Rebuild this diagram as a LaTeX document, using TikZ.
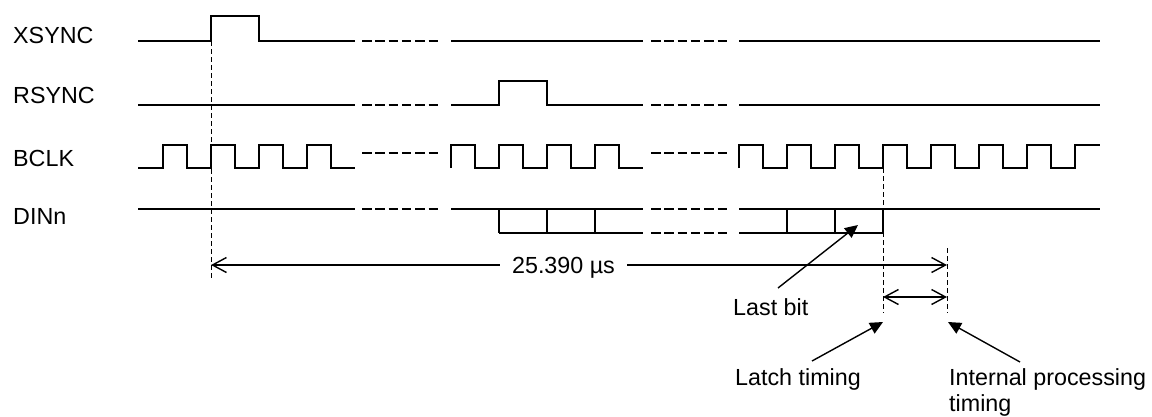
\documentclass[tikz,border=0pt]{standalone}
\usepackage{fontspec}
\setmainfont{Liberation Sans}
\usetikzlibrary{arrows.meta}
\begin{document}
\begin{tikzpicture}[x=1pt,y=-1pt,
  sig/.style={line width=1.7pt, line join=miter},
  gapdash/.style={line width=1.7pt, dash pattern=on 9.5pt off 3.8pt},
  guide/.style={line width=1pt, dash pattern=on 5pt off 3pt},
  dim/.style={line width=1.4pt, {Straight Barb[length=14pt,width=15pt]}-{Straight Barb[length=14pt,width=15pt]}},
  pointer/.style={line width=1.4pt, -{Triangle[length=13pt,width=12pt]}},
  lbl/.style={font=\fontsize{23.3}{26}\selectfont, inner sep=0pt, anchor=base west}]
\useasboundingbox (0,0) rectangle (1152,416);
% labels
\node[lbl] (lx) at (13,43) {XSYNC};
\node[lbl] (lr) at (13,103) {RSYNC};
\node[lbl] (lb) at (13,166) {BCLK};
\node[lbl] (ld) at (13,224) {DINn};
% guides
\draw[guide] (211,41) -- (211,278);
\draw[guide] (883,168) -- (883,313);
\draw[guide] (947,248) -- (947,313);
% XSYNC
\draw[sig] (138,41)--(211,41)--(211,16)--(259,16)--(259,41)--(355,41);
\draw[sig] (451,41)--(643,41);
\draw[sig] (739,41)--(1100,41);
% RSYNC
\draw[sig] (138,105)--(355,105);
\draw[sig] (451,105)--(499,105)--(499,81)--(547,81)--(547,105)--(643,105);
\draw[sig] (739,105)--(1100,105);
% BCLK
\draw[sig] (138,168)--(163,168)--(163,145)--(187,145)--(187,168)--(211,168)--(211,145)--(235,145)--(235,168)--(259,168)--(259,145)--(283,145)--(283,168)--(307,168)--(307,145)--(331,145)--(331,168)--(355,168);
\draw[sig] (451,168)--(451,145)--(475,145)--(475,168)--(499,168)--(499,145)--(523,145)--(523,168)--(547,168)--(547,145)--(571,145)--(571,168)--(595,168)--(595,145)--(619,145)--(619,168)--(643,168);
\draw[sig] (739,168)--(739,145)--(763,145)--(763,168)--(787,168)--(787,145)--(811,145)--(811,168)--(835,168)--(835,145)--(859,145)--(859,168)--(883,168)--(883,145)--(907,145)--(907,168)--(931,168)--(931,145)--(955,145)--(955,168)--(979,168)--(979,145)--(1003,145)--(1003,168)--(1027,168)--(1027,145)--(1051,145)--(1051,168)--(1075,168)--(1075,145)--(1100,145);
% DINn
\draw[sig] (138,209)--(355,209);
\draw[sig] (451,209)--(643,209);
\draw[sig] (499,233)--(643,233);
\foreach \x in {499,547,595} \draw[sig] (\x,209)--(\x,233);
\draw[sig] (739,209)--(1100,209);
\draw[sig] (739,233)--(883,233);
\foreach \x in {787,835,883} \draw[sig] (\x,209)--(\x,233);
% gaps
\foreach \y in {41,105,153,209} {
  \draw[gapdash] (362,\y)--(439,\y);
  \draw[gapdash] (651,\y)--(727,\y);
}
\draw[gapdash] (651,233)--(727,233);
% dimensions
\coordinate (d1) at (211,265);
\coordinate (d2) at (947,265);
\draw[dim] (d1) -- (d2);
\node[lbl, anchor=base, fill=white, inner xsep=12pt, inner ysep=2pt] (dl) at (563.5,273) {25.390 µs};
\coordinate (e1) at (883,297);
\coordinate (e2) at (947,297);
\draw[dim] (e1) -- (e2);
% pointers
\node[lbl] (lastbit) at (733,315) {Last bit};
\node[lbl] (latch) at (735,385) {Latch timing};
\node[lbl, align=left] (intp) at (949,411) {Internal processing\\timing};
\coordinate (p1s) at (778,288); \coordinate (p1e) at (858,225);
\coordinate (p2s) at (812,361); \coordinate (p2e) at (883,322);
\coordinate (p3s) at (1020,362); \coordinate (p3e) at (948,322);
\draw[pointer] (p1s) -- (p1e);
\draw[pointer] (p2s) -- (p2e);
\draw[pointer] (p3s) -- (p3e);
\end{tikzpicture}
\end{document}
